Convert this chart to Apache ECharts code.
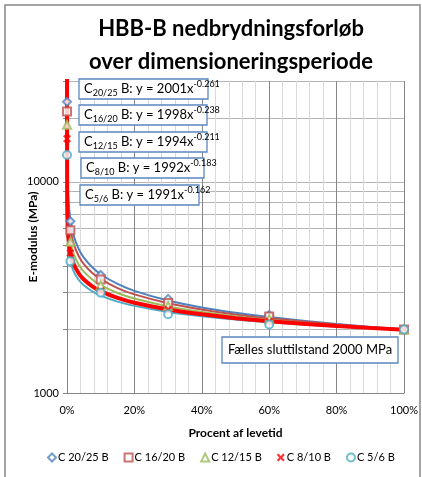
<!DOCTYPE html>
<html>
<head>
<meta charset="utf-8">
<script src="https://cdn.jsdelivr.net/npm/echarts@6.0.0/dist/echarts.min.js"></script>
<style>
html, body { margin: 0; padding: 0; background: #fff; }
#chart { width: 422px; height: 477px; }
</style>
</head>
<body>
<div id="chart"></div>
<script>
// measured points (x = share of lifetime)
const seriesNames = ['C 20/25 B', 'C 16/20 B', 'C 12/15 B', 'C 8/10 B', 'C 5/6 B'];
const pointX = [0.0001, 0.01, 0.1, 0.3, 0.6, 1];
const c2025 = [23900, 6500, 3620, 2790, 2340, 2000];
const c1620 = [21500, 5900, 3450, 2670, 2300, 2000];
const c1215 = [18600, 5200, 3240, 2580, 2240, 2000];
const c810 = [16000, 4600, 3040, 2480, 2180, 2000];
const c56 = [13400, 4200, 2980, 2360, 2110, 2000];

// power trendlines
const curveX = [0, 0.0005, 0.002, 0.005, 0.01, 0.02, 0.035, 0.05, 0.075, 0.1, 0.15, 0.2, 0.3, 0.4, 0.5, 0.6, 0.8, 1];
const t2025 = [40000, 14550, 10130, 7980, 6660, 5555, 4800, 4375, 3935, 3650, 3283, 3046, 2740, 2541, 2397, 2288, 2121, 2001];
const t1620 = [40000, 12200, 8770, 7050, 5980, 5070, 4440, 4075, 3700, 3457, 3139, 2931, 2661, 2486, 2356, 2256, 2108, 1998];
const t1215 = [40000, 9915, 7400, 6100, 5268, 4552, 4046, 3753, 3444, 3242, 2975, 2800, 2571, 2419, 2307, 2221, 2090, 1994];
const t810 = [40000, 8005, 6210, 5253, 4627, 4076, 3679, 3447, 3201, 3036, 2819, 2674, 2484, 2357, 2261, 2187, 2075, 1992];
const t56 = [40000, 6821, 5450, 4699, 4199, 3752, 3427, 3235, 3028, 2891, 2708, 2585, 2419, 2310, 2228, 2162, 2064, 1991];

const yTicks = [1000, 2000, 3000, 4000, 5000, 6000, 7000, 8000, 9000, 10000, 20000, 30000];
const yLabels = [1000, 10000];
const xLabels = [0, 0.2, 0.4, 0.6, 0.8, 1];

const equations = [
  ['20/25', '2001', '-0.261'],
  ['16/20', '1998', '-0.238'],
  ['12/15', '1994', '-0.211'],
  ['8/10', '1992', '-0.183'],
  ['5/6', '1991', '-0.162']
];

const colors = ['#4F81BD', '#C0504D', '#9BBB59', '#FF0000', '#4BACC6'];
const symbols = ['emptyDiamond', 'emptyRect', 'emptyTriangle',
  'path://M0,2L2,0L5,3L8,0L10,2L7,5L10,8L8,10L5,7L2,10L0,8L3,5Z', 'emptyCircle'];
const points = [c2025, c1620, c1215, c810, c56];
const trends = [t2025, t1620, t1215, t810, t56];
const font = 'Lato, "Open Sans", sans-serif';

const zip = (xs, ys) => xs.map((x, i) => [x, ys[i]]);

const trendSeries = trends.map((t, i) => ({
  name: 'trend' + i,
  type: 'line',
  data: zip(curveX, t),
  showSymbol: false,
  symbol: 'none',
  smooth: 0.2,
  clip: true,
  lineStyle: { color: colors[i], width: i === 3 ? 4 : 2 },
  z: i === 3 ? 4 : 3,
  silent: true
}));
const pointSeries = points.map((p, i) => ({
  name: seriesNames[i],
  type: 'scatter',
  data: zip(pointX, p),
  symbol: symbols[i],
  symbolSize: 8,
  itemStyle: { color: colors[i], borderWidth: 1 },
  z: 5
}));

const boxY = [79, 105, 132, 158, 185];
const boxW = [129, 128, 128, 123, 119];
const boxX = [79, 79, 79, 81, 80];
const graphics = [
  { type: 'rect', shape: { x: 5, y: 5, width: 415, height: 480 }, style: { fill: 'none', stroke: '#868686', lineWidth: 1.5 }, silent: true },
  { type: 'text', x: 231, y: 12, style: { text: 'HBB-B nedbrydningsforløb\nover dimensioneringsperiode', font: 'bold 22px ' + font, fill: '#000', align: 'center', lineHeight: 33 }, silent: true },
];
equations.forEach((e, i) => {
  graphics.push({ type: 'rect', z: 100, shape: { x: boxX[i], y: boxY[i], width: boxW[i], height: 20 }, style: { fill: '#fff', stroke: '#5B87C0', lineWidth: 1.3 } });
  graphics.push({ type: 'text', z: 101, x: boxX[i] + 5, y: boxY[i] + 1, style: {
    text: `{n|C}{s|${e[0]}}{n| B: y = ${e[1]}x}{p|${e[2]}}`,
    rich: {
      n: { fontSize: 13, fontFamily: font, lineHeight: 18, fill: '#000' },
      s: { fontSize: 9, fontFamily: font, lineHeight: 10, verticalAlign: 'bottom', fill: '#000' },
      p: { fontSize: 9, fontFamily: font, lineHeight: 10, verticalAlign: 'top', fill: '#000' }
    }
  } });
});
graphics.push({ type: 'rect', z: 100, shape: { x: 222, y: 337, width: 176, height: 26 }, style: { fill: '#fff', stroke: '#5B87C0', lineWidth: 1.3 } });
graphics.push({ type: 'text', z: 101, x: 310, y: 350, style: { text: 'Fælles sluttilstand 2000 MPa', font: '13px ' + font, fill: '#000', align: 'center', verticalAlign: 'middle' } });

const chart = echarts.init(document.getElementById('chart'));
chart.setOption({
  animation: false,
  color: colors,
  grid: { left: 67, right: 18, top: 81, bottom: 84, outerBoundsMode: 'none' },
  legend: {
    data: seriesNames,
    bottom: 9,
    left: 42,
    itemWidth: 8,
    itemHeight: 8,
    itemGap: 15,
    textStyle: { fontFamily: font, fontSize: 11, color: '#000', padding: [0, 0, 0, -3] }
  },
  xAxis: {
    type: 'value',
    min: 0,
    max: 1,
    interval: 0.04,
    name: 'Procent af levetid',
    nameLocation: 'middle',
    nameGap: 34,
    nameMoveOverlap: false,
    nameTextStyle: { fontFamily: font, fontSize: 12, fontWeight: 'bold', color: '#000' },
    axisLine: { lineStyle: { color: '#868686' } },
    axisTick: { show: false },
    axisLabel: {
      fontFamily: font, fontSize: 11, color: '#000', margin: 12,
      formatter: (v) => xLabels.some((l) => Math.abs(l - v) < 1e-6) ? Math.round(v * 100) + '%' : ''
    },
    splitLine: { show: true, lineStyle: { color: ['#868686', '#d9d9d9', '#d9d9d9', '#d9d9d9', '#d9d9d9'], width: 1 } }
  },
  yAxis: {
    type: 'log',
    logBase: 10,
    min: 1000,
    max: 30000,
    name: 'E-modulus (MPa)',
    nameLocation: 'middle',
    nameGap: 28,
    nameMoveOverlap: false,
    nameTextStyle: { fontFamily: font, fontSize: 12, fontWeight: 'bold', color: '#000' },
    axisLine: { show: true, lineStyle: { color: '#868686' } },
    axisTick: { show: true, length: 4, customValues: yTicks, lineStyle: { color: '#868686' } },
    axisLabel: {
      fontFamily: font, fontSize: 11, color: '#000', customValues: yLabels,
      formatter: (v) => yLabels.includes(Math.round(v)) ? String(Math.round(v)) : ''
    },
    splitLine: { show: true, lineStyle: { color: '#b3b3b3', width: 1 } }
  },
  graphic: graphics,
  series: [...trendSeries, ...pointSeries]
});
</script>
</body>
</html>
